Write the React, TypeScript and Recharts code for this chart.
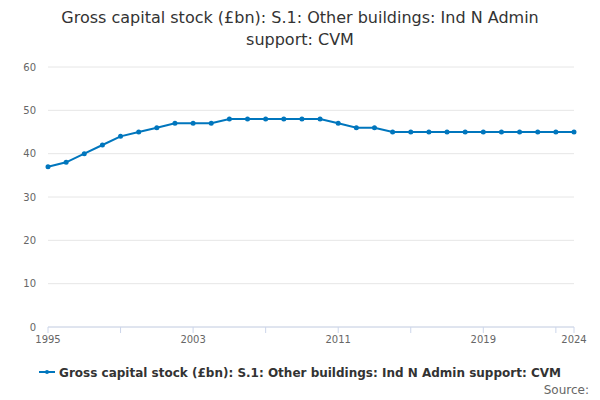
import { LineChart, Line, XAxis, YAxis, CartesianGrid } from 'recharts';

const years = [1995, 1996, 1997, 1998, 1999, 2000, 2001, 2002, 2003, 2004, 2005, 2006, 2007, 2008, 2009, 2010, 2011, 2012, 2013, 2014, 2015, 2016, 2017, 2018, 2019, 2020, 2021, 2022, 2023, 2024];
const values = [37, 38, 40, 42, 44, 45, 46, 47, 47, 47, 48, 48, 48, 48, 48, 48, 47, 46, 46, 45, 45, 45, 45, 45, 45, 45, 45, 45, 45, 45];
const xTicks = [1995, 1999, 2003, 2007, 2011, 2015, 2019, 2023, 2024];
const xLabels = [1995, 2003, 2011, 2019, 2024];
const yTicks = [0, 10, 20, 30, 40, 50, 60];

const data = years.map((year, i) => ({ year, value: values[i] }));
const color = '#0076bd';
const font = '"DejaVu Sans", sans-serif';

export default function App() {
  return (
    <div style={{ position: 'absolute', left: 0, top: 0, width: 600, height: 400, fontFamily: font, background: '#fff' }}>
      <div style={{ position: 'absolute', top: 7, width: 600, textAlign: 'center', fontSize: 16, lineHeight: '22px', color: '#333' }}>
        Gross capital stock (£bn): S.1: Other buildings: Ind N Admin<br />support: CVM
      </div>
      <div style={{ position: 'absolute', top: 50, left: 0 }}>
        <LineChart width={600} height={300} data={data} margin={{ top: 17, right: 26, bottom: 3, left: 8 }}>
          <CartesianGrid vertical={false} stroke="#e6e6e6" />
          <XAxis
            dataKey="year"
            type="number"
            domain={[1995, 2024]}
            ticks={xTicks}
            interval={0}
            tickFormatter={(v) => (xLabels.includes(v) ? String(v) : '')}
            height={20}
            stroke="#ccd6eb"
            tickSize={6}
            tickMargin={3}
            tick={{ fill: '#666', fontSize: 10 }}
          />
          <YAxis
            domain={[0, 60]}
            ticks={yTicks}
            width={40}
            axisLine={false}
            tickLine={false}
            tickMargin={6}
            tick={{ fill: '#666', fontSize: 10 }}
          />
          <Line
            dataKey="value"
            stroke={color}
            strokeWidth={2}
            dot={{ r: 1.5, fill: color, stroke: color }}
            isAnimationActive={false}
          />
        </LineChart>
      </div>
      <div style={{ position: 'absolute', top: 366, width: 600, textAlign: 'center', fontSize: 12, fontWeight: 'bold', color: '#333' }}>
        <svg width={16} height={10} style={{ marginRight: 4 }}>
          <line x1={0} y1={5} x2={16} y2={5} stroke={color} strokeWidth={2} />
          <circle cx={8} cy={5} r={2} fill={color} />
        </svg>
        Gross capital stock (£bn): S.1: Other buildings: Ind N Admin support: CVM
      </div>
      <div style={{ position: 'absolute', top: 383, right: 11, fontSize: 12, color: '#666' }}>Source:</div>
    </div>
  );
}
